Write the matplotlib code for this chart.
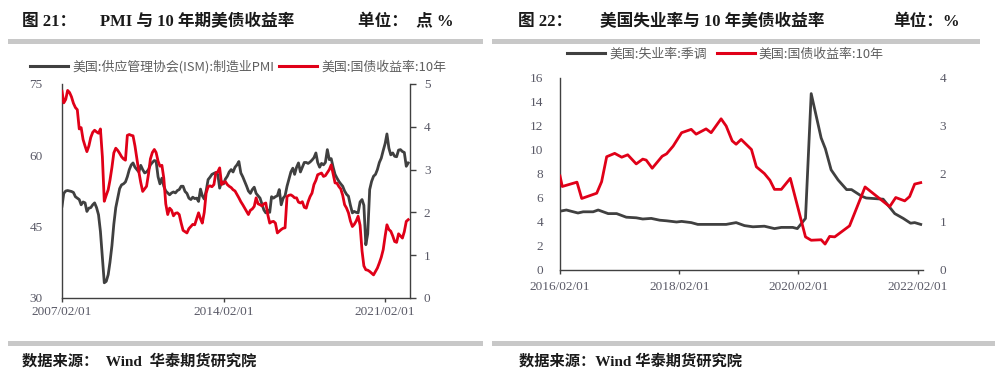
"""
Two panels: US ISM PMI vs 10Y yield, US unemployment vs 10Y yield.
"""
import numpy as np
import pandas as pd
import matplotlib
matplotlib.use("Agg")
import matplotlib.pyplot as plt
from matplotlib.patches import Rectangle

plt.rcParams['font.family'] = ['Liberation Serif', 'Noto Sans CJK SC', 'DejaVu Sans']

# ── Panel 1 data: monthly from 2007/02 ─────────────────────
pmi_start = "2007-02-01"
pmi = [
    49.3, 52.0, 52.5, 52.6, 52.5, 52.4, 52.2, 51.3, 51.0, 50.7, 49.6, 50.2,
    50.0, 48.2, 48.9, 49.0, 49.6, 50.0, 49.0, 47.5, 44.0, 38.5, 33.2, 33.5,
    34.9, 37.5, 41.0, 45.5, 49.0, 51.0, 53.0, 53.8, 54.0, 54.4, 55.5, 57.0,
    58.0, 58.4, 57.5, 57.0, 56.5, 57.9, 57.0, 56.3, 56.5, 57.0, 58.0, 58.5,
    58.9, 58.8, 55.5, 54.0, 55.2, 53.5, 52.5, 52.1, 51.7, 52.1, 52.3, 52.1,
    52.6, 52.8, 53.5, 53.5, 52.4, 52.0, 51.0, 50.7, 51.2, 50.9, 51.0, 50.3,
    52.9, 51.5, 50.8, 52.5, 54.9, 55.4, 56.0, 56.2, 56.4, 56.0, 53.1, 54.5,
    54.0, 55.0, 55.6, 56.5, 57.0, 56.5, 57.5, 58.0, 58.7, 56.3, 55.5, 54.5,
    53.5, 52.5, 52.0, 52.8, 53.3, 52.0, 51.5, 51.0, 49.8, 48.5, 47.9, 48.5,
    48.0, 51.3, 51.0, 51.3, 51.5, 52.8, 49.6, 51.0, 51.5, 53.5, 55.0, 56.5,
    57.3, 56.0, 57.5, 58.4, 56.5, 57.5, 58.5, 58.5, 58.3, 58.6, 59.0, 59.5,
    60.5, 58.5, 57.5, 58.3, 58.0, 58.5, 61.2, 59.1, 59.3, 57.5, 56.0, 55.2,
    54.5, 54.0, 53.5, 52.5, 51.8, 51.4, 49.5, 47.9, 48.2, 48.0, 47.9, 50.2,
    50.7, 49.5, 41.2, 43.5, 52.8, 54.5, 55.6, 56.0, 57.0, 58.5, 59.4, 61.0,
    62.5, 64.5, 61.5, 60.1, 60.5, 59.8, 59.7, 61.1, 61.2, 60.8, 60.6, 57.7,
    58.4,
]
yield_long = [
    4.83, 4.56, 4.64, 4.85, 4.80, 4.70, 4.55, 4.45, 4.40, 3.95, 3.98, 3.70,
    3.55, 3.42, 3.55, 3.75, 3.87, 3.92, 3.88, 3.85, 3.95, 3.30, 2.26, 2.40,
    2.53, 2.75, 3.05, 3.39, 3.50, 3.45, 3.38, 3.30, 3.25, 3.22, 3.80, 3.82,
    3.80, 3.79, 3.55, 3.25, 2.95, 2.70, 2.49, 2.55, 2.61, 2.90, 3.25, 3.40,
    3.47, 3.40, 3.20, 3.08, 3.10, 2.80, 2.20, 1.95, 2.10, 2.05, 1.92, 1.98,
    1.99, 1.95, 1.75, 1.58, 1.55, 1.52, 1.62, 1.67, 1.72, 1.71, 1.85, 1.99,
    1.85, 1.75, 2.00, 2.45, 2.60, 2.62, 2.60, 2.65, 2.92, 2.95, 3.04, 2.65,
    2.70, 2.72, 2.65, 2.61, 2.58, 2.53, 2.50, 2.42, 2.34, 2.25, 2.18, 2.10,
    2.02, 1.95, 2.05, 2.08, 2.14, 2.34, 2.20, 2.18, 2.15, 2.20, 2.22, 1.95,
    1.75, 1.78, 1.79, 1.75, 1.52, 1.56, 1.60, 1.63, 1.64, 2.37, 2.40, 2.41,
    2.38, 2.34, 2.34, 2.24, 2.22, 2.25, 2.12, 2.10, 2.25, 2.37, 2.45, 2.65,
    2.75, 2.88, 2.90, 2.92, 2.84, 2.86, 2.93, 3.00, 3.11, 2.90, 2.69, 2.68,
    2.60, 2.55, 2.40, 2.18, 2.10, 1.99, 1.80, 1.67, 1.72, 1.80, 1.91, 1.70,
    1.10, 0.75, 0.66, 0.65, 0.62, 0.58, 0.54, 0.62, 0.70, 0.82, 0.95, 1.13,
    1.45, 1.71, 1.60, 1.56, 1.45, 1.32, 1.30, 1.50, 1.45, 1.40, 1.55, 1.79,
    1.83,
]
left_xticks = ["2007-02-01", "2014-02-01", "2021-02-01"]
left_xlabels = ["2007/02/01", "2014/02/01", "2021/02/01"]

# ── Panel 2 data ───────────────────────────────────────────
unemp_dates = [
    "2016-02-01", "2016-03-11", "2016-05-21", "2016-06-22", "2016-08-22",
    "2016-09-22", "2016-11-22", "2017-01-13", "2017-03-13", "2017-05-13",
    "2017-06-22", "2017-08-13", "2017-10-04", "2017-11-15", "2018-01-15",
    "2018-02-15", "2018-04-15", "2018-05-25", "2018-11-15", "2019-01-15",
    "2019-03-07", "2019-04-28", "2019-07-07", "2019-09-07", "2019-10-19",
    "2019-12-28", "2020-01-25", "2020-03-15", "2020-04-19", "2020-06-19",
    "2020-07-15", "2020-08-19", "2020-10-01", "2020-11-22", "2020-12-22",
    "2021-02-22", "2021-03-22", "2021-07-04", "2021-09-13", "2021-11-04",
    "2021-12-19", "2022-01-13", "2022-02-19",
]
unemp = [
    4.9, 5.0, 4.75, 4.85, 4.85, 5.0, 4.7, 4.7, 4.4, 4.35,
    4.25, 4.3, 4.15, 4.1, 4.0, 4.05, 3.95, 3.8, 3.8, 3.95,
    3.7, 3.6, 3.65, 3.45, 3.55, 3.55, 3.45, 4.3, 14.7, 11.0,
    10.1, 8.35, 7.5, 6.7, 6.7, 6.15, 6.0, 5.9, 4.7, 4.3,
    3.9, 3.95, 3.8,
]
yield_dates = [
    "2016-02-01", "2016-02-15", "2016-05-15", "2016-06-13", "2016-09-13",
    "2016-10-13", "2016-11-13", "2017-01-01", "2017-02-13", "2017-03-22",
    "2017-05-13", "2017-06-22", "2017-07-13", "2017-08-19", "2017-10-19",
    "2017-11-15", "2017-12-25", "2018-02-15", "2018-04-15", "2018-05-15",
    "2018-07-15", "2018-08-15", "2018-10-15", "2018-11-15", "2018-12-22",
    "2019-01-15", "2019-02-15", "2019-04-19", "2019-05-19", "2019-07-07",
    "2019-08-10", "2019-09-07", "2019-10-19", "2019-12-13", "2020-03-15",
    "2020-04-19", "2020-06-19", "2020-07-13", "2020-08-10", "2020-09-10",
    "2020-12-10", "2021-03-15", "2021-08-13", "2021-09-19", "2021-11-13",
    "2021-12-13", "2022-01-13", "2022-02-19",
]
yield_short = [
    1.96, 1.74, 1.83, 1.49, 1.60, 1.84, 2.36, 2.43, 2.35, 2.40,
    2.21, 2.31, 2.29, 2.12, 2.37, 2.42, 2.58, 2.86, 2.93, 2.83,
    2.94, 2.86, 3.15, 3.00, 2.69, 2.62, 2.72, 2.51, 2.15, 2.01,
    1.87, 1.68, 1.68, 1.91, 0.69, 0.62, 0.63, 0.54, 0.70, 0.69,
    0.92, 1.73, 1.32, 1.51, 1.44, 1.53, 1.79, 1.82,
]
right_xticks = ["2016-02-01", "2018-02-01", "2020-02-01", "2022-02-01"]
right_xlabels = ["2016/02/01", "2018/02/01", "2020/02/01", "2022/02/01"]

BLACK = "#404040"
RED = "#e00018"
TICK_C = "#595966"
BAR_C = "#c8c8c8"
LEG_C = "#5f5f5f"

fig = plt.figure(figsize=(10.03, 3.87), dpi=100)
W, H = 1003, 387


def fx(px):
    return px / W


def fy(py):
    return 1 - py / H


def style_ticks(ax):
    for lab in ax.get_xticklabels() + ax.get_yticklabels():
        lab.set_fontsize(9.5)
        lab.set_color(TICK_C)


leg_kw = dict(loc="center left", ncol=2, frameon=False,
              prop={"family": ["Noto Sans CJK SC", "DejaVu Sans"], "size": 9.3},
              handlelength=2.95, handletextpad=0.3, labelcolor=LEG_C,
              borderaxespad=0, borderpad=0)

# ── Panel 1 ────────────────────────────────────────────────
d1 = pd.date_range(pmi_start, periods=len(pmi), freq="MS")
ax1 = fig.add_axes([fx(62), fy(298), fx(348), 214 / H])
ax1b = ax1.twinx()
ax1.plot(d1, pmi, color=BLACK, lw=2.0)
ax1b.plot(d1, yield_long, color=RED, lw=2.0)
ax1.set_ylim(30, 75)
ax1.set_yticks([30, 45, 60, 75])
ax1b.set_ylim(0, 5)
ax1b.set_yticks([0, 1, 2, 3, 4, 5])
ax1.set_xlim(pd.Timestamp("2007-02-01"), pd.Timestamp("2022-03-01"))
ax1.set_xticks(pd.to_datetime(left_xticks))
ax1.set_xticklabels(left_xlabels)
for a in (ax1, ax1b):
    a.spines["top"].set_visible(False)
    for s in a.spines.values():
        s.set_color(BLACK)
        s.set_linewidth(1.0)
ax1.spines["right"].set_visible(False)
ax1b.spines["left"].set_visible(False)
ax1b.spines["bottom"].set_visible(False)
ax1.tick_params(axis="y", length=0, pad=14)
ax1.tick_params(axis="x", length=3, width=1, color=BLACK, pad=3)
ax1b.tick_params(axis="y", length=4, width=1, color=BLACK, pad=6)
style_ticks(ax1)
style_ticks(ax1b)

fig.legend(
    handles=[plt.Line2D([], [], color=BLACK, lw=2.2), plt.Line2D([], [], color=RED, lw=2.2)],
    labels=["美国:供应管理协会(ISM):制造业PMI", "美国:国债收益率:10年"],
    bbox_to_anchor=(fx(30), fy(67)), columnspacing=0.4, **leg_kw,
)

# ── Panel 2 ────────────────────────────────────────────────
ax2 = fig.add_axes([fx(560), fy(270), fx(363), 192 / H])
ax2b = ax2.twinx()
ax2.plot(pd.to_datetime(unemp_dates), unemp, color=BLACK, lw=2.0)
ax2b.plot(pd.to_datetime(yield_dates), yield_short, color=RED, lw=2.0)
ax2.set_ylim(0, 16)
ax2.set_yticks(np.arange(0, 17, 2))
ax2b.set_ylim(0, 4)
ax2b.set_yticks([0, 1, 2, 3, 4])
ax2.set_xlim(pd.Timestamp("2016-02-01"), pd.Timestamp("2022-03-05"))
ax2.set_xticks(pd.to_datetime(right_xticks))
ax2.set_xticklabels(right_xlabels)
for a in (ax2, ax2b):
    for side in ("top", "right"):
        a.spines[side].set_visible(False)
    for s in a.spines.values():
        s.set_color(BLACK)
        s.set_linewidth(1.0)
ax2b.spines["left"].set_visible(False)
ax2b.spines["bottom"].set_visible(False)
ax2.tick_params(axis="y", length=0, pad=12)
ax2.tick_params(axis="x", length=3, width=1, color=BLACK, pad=5)
ax2b.tick_params(axis="y", length=0, pad=12)
style_ticks(ax2)
style_ticks(ax2b)

fig.legend(
    handles=[plt.Line2D([], [], color=BLACK, lw=2.2), plt.Line2D([], [], color=RED, lw=2.2)],
    labels=["美国:失业率:季调", "美国:国债收益率:10年"],
    bbox_to_anchor=(fx(567), fy(54)), columnspacing=0.8, **leg_kw,
)

# ── Titles, bars, sources ──────────────────────────────────
title_kw = dict(fontsize=12, fontweight="bold", color="#1a1a1a", va="center",
                family=["Liberation Serif", "Noto Sans CJK SC"])
fig.text(fx(22), fy(22), "图 21：", **title_kw)
fig.text(fx(100), fy(22), "PMI 与 10 年期美债收益率", **title_kw)
fig.text(fx(358), fy(22), "单位：  点 %", **title_kw)
fig.text(fx(518), fy(22), "图 22：", **title_kw)
fig.text(fx(600), fy(22), "美国失业率与 10 年美债收益率", **title_kw)
fig.text(fx(893), fy(22), "单位：%", **title_kw)

for x0, x1 in ((8, 483), (492, 980)):
    fig.add_artist(Rectangle((fx(x0), fy(44)), fx(x1 - x0), 5 / H,
                             transform=fig.transFigure, color=BAR_C, lw=0))
for x0, x1 in ((8, 483), (492, 995)):
    fig.add_artist(Rectangle((fx(x0), fy(346)), fx(x1 - x0), 5 / H,
                             transform=fig.transFigure, color=BAR_C, lw=0))

src_kw = dict(fontsize=11, fontweight="bold", color="#1a1a1a", va="center",
              family=["Liberation Serif", "Noto Sans CJK SC"])
fig.text(fx(22), fy(361), "数据来源：  Wind  华泰期货研究院", **src_kw)
fig.text(fx(519), fy(361), "数据来源：Wind 华泰期货研究院", **src_kw)

fig.savefig("out.png", dpi=100)
print("Saved: out.png")
